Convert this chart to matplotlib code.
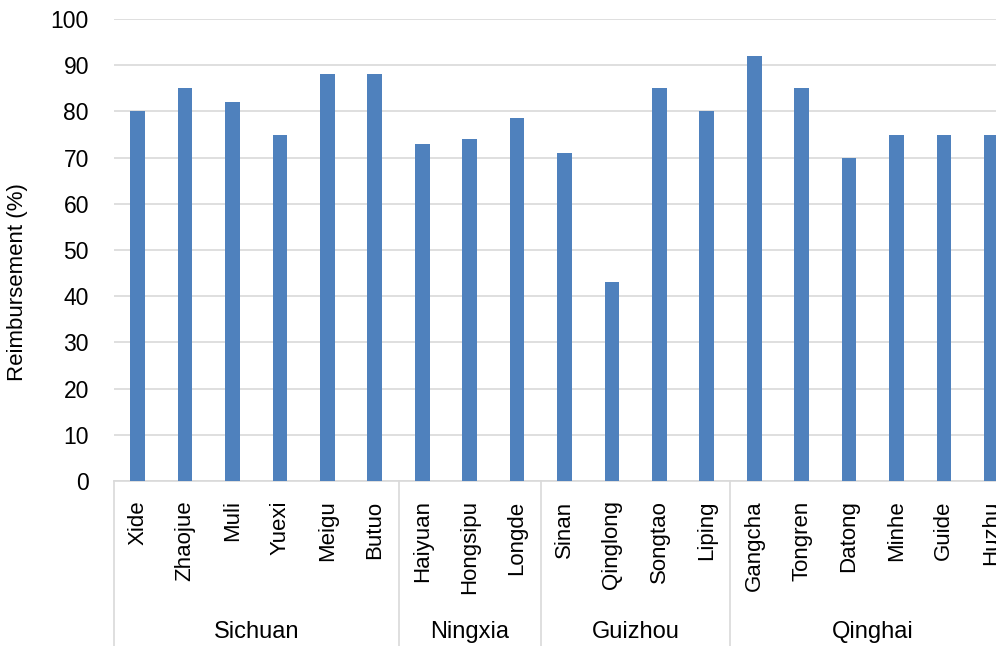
import matplotlib
matplotlib.use("Agg")
import matplotlib.pyplot as plt
from matplotlib.transforms import blended_transform_factory

plt.rcParams['font.family'] = ['Liberation Sans', 'DejaVu Sans']

counties = ["Xide", "Zhaojue", "Muli", "Yuexi", "Meigu", "Butuo",
            "Haiyuan", "Hongsipu", "Longde",
            "Sinan", "Qinglong", "Songtao", "Liping",
            "Gangcha", "Tongren", "Datong", "Minhe", "Guide", "Huzhu"]
reimbursement = [80, 85, 82, 75, 88, 88,
                 73, 74, 78.6,
                 71, 43, 85, 80,
                 92, 85, 70, 75, 75, 75]
provinces = ["Sichuan", "Ningxia", "Guizhou", "Qinghai"]
province_sizes = [6, 3, 4, 6]
yticks = [0, 10, 20, 30, 40, 50, 60, 70, 80, 90, 100]

W, H = 996, 646
fig = plt.figure(figsize=(W / 100, H / 100), dpi=100)
left_px, right_px, top_px, bottom_px = 114, 1015, 19, 481
ax = fig.add_axes([left_px / W, 1 - bottom_px / H,
                   (right_px - left_px) / W, (bottom_px - top_px) / H])

x = list(range(len(counties)))
ax.bar(x, reimbursement, width=0.31, color="#4f81bd", zorder=3)

ax.set_xlim(-0.5, len(counties) - 0.5)
ax.set_ylim(0, 100)
ax.set_yticks(yticks)
ax.set_yticklabels([str(t) for t in yticks], fontsize=16.5)
ax.yaxis.grid(True, color="#d9d9d9", linewidth=1.2, zorder=0)
ax.tick_params(axis="y", length=0, pad=18)
ax.tick_params(axis="x", length=0, pad=14)
ax.set_xticks(x)
ax.set_xticklabels(counties, rotation=90, fontsize=16, va="top", ha="center")

for s in ["left", "right", "top"]:
    ax.spines[s].set_visible(False)
ax.spines["bottom"].set_color("#d9d9d9")
ax.spines["bottom"].set_linewidth(1.2)

ax.set_ylabel("Reimbursement (%)", fontsize=16)
ax.yaxis.set_label_coords(-0.096, 0.43)

# province separators and labels below the county names
trans = blended_transform_factory(ax.transData, fig.transFigure)
ax_bottom = 1 - bottom_px / H
bounds = [-0.5]
for n in province_sizes:
    bounds.append(bounds[-1] + n)
for b in bounds:
    ax.plot([b, b], [0, ax_bottom], transform=trans, color="#d9d9d9",
            linewidth=1.2, clip_on=False)
for name, a, b in zip(provinces, bounds[:-1], bounds[1:]):
    ax.text((a + b) / 2, 14 / H, name, transform=trans, ha="center",
            va="center", fontsize=17)

fig.savefig("out.png", dpi=100)
